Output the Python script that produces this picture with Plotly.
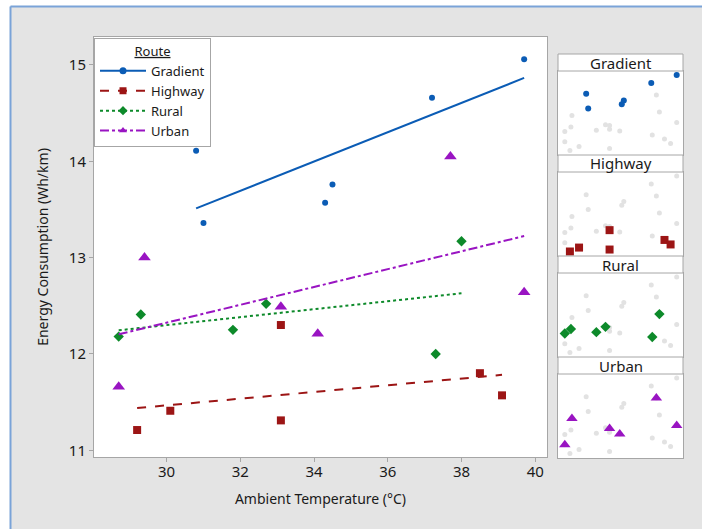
import numpy as np
import plotly.graph_objects as go

# ---------------- data ----------------
routes = ["Gradient", "Highway", "Rural", "Urban"]
gradient_x = [30.8, 31.0, 34.3, 34.5, 37.2, 39.7]
gradient_y = [14.11, 13.36, 13.57, 13.76, 14.66, 15.06]
highway_x = [29.2, 30.1, 33.1, 33.1, 38.5, 39.1]
highway_y = [11.21, 11.41, 12.30, 11.31, 11.80, 11.57]
rural_x = [28.7, 29.3, 31.8, 32.7, 37.3, 38.0]
rural_y = [12.18, 12.41, 12.25, 12.52, 12.00, 13.17]
urban_x = [28.7, 29.4, 33.1, 34.1, 37.7, 39.7]
urban_y = [11.66, 13.00, 12.49, 12.21, 14.05, 12.64]
x_ticks = [30, 32, 34, 36, 38, 40]
y_ticks = [11, 12, 13, 14, 15]

xs = [gradient_x, highway_x, rural_x, urban_x]
ys = [gradient_y, highway_y, rural_y, urban_y]

# ---------------- styles ----------------
colors = ["#0b5cb5", "#9c1515", "#0d8a2a", "#9914c2"]
symbols = ["circle", "square", "diamond", "triangle-up"]
msizes = [6, 8, 8, 11]
small_sizes = [6, 8, 8, 10]
dashes = ["solid", "dash", "dot", "dashdot"]

W, H = 702, 529
FONT = "Noto Sans"


def px(v):
    return v / W


def py(v):
    return 1 - v / H


fig = go.Figure()

# main panel
for i, r in enumerate(routes):
    x = np.array(xs[i])
    y = np.array(ys[i])
    b, a = np.polyfit(x, y, 1)
    xl = np.array([x.min(), x.max()])
    fig.add_trace(go.Scatter(x=xl, y=a + b * xl, mode="lines",
                             line=dict(color=colors[i], width=2, dash=dashes[i]),
                             showlegend=False, xaxis="x", yaxis="y", hoverinfo="skip"))
    fig.add_trace(go.Scatter(x=x, y=y, mode="markers",
                             marker=dict(color=colors[i], symbol=symbols[i], size=msizes[i]),
                             showlegend=False, xaxis="x", yaxis="y"))
    # legend entry
    fig.add_trace(go.Scatter(x=[None], y=[None], mode="lines+markers", name=r,
                             line=dict(color=colors[i], width=2, dash=dashes[i]),
                             marker=dict(color=colors[i], symbol=symbols[i], size=7),
                             xaxis="x", yaxis="y"))

# small multiples
all_x = sum(xs, [])
all_y = sum(ys, [])
for i, r in enumerate(routes):
    k = i + 2
    fig.add_trace(go.Scatter(x=all_x, y=all_y, mode="markers",
                             marker=dict(color="#e2e2e2", size=5),
                             showlegend=False, xaxis=f"x{k}", yaxis=f"y{k}", hoverinfo="skip"))
    fig.add_trace(go.Scatter(x=xs[i], y=ys[i], mode="markers",
                             marker=dict(color=colors[i], symbol=symbols[i], size=small_sizes[i]),
                             showlegend=False, xaxis=f"x{k}", yaxis=f"y{k}"))

axis_common = dict(showgrid=False, zeroline=False, showline=True, mirror=True,
                   linecolor="#a6a6a6", linewidth=1, automargin=False)

layout = dict(
    width=W, height=H,
    margin=dict(l=0, r=0, t=0, b=0, autoexpand=False),
    paper_bgcolor="#e4e4e4",
    plot_bgcolor="white",
    font=dict(family=FONT, size=14, color="#1a1a1a"),
    xaxis=dict(domain=[px(94), px(547)], range=[28.03, 40.32], anchor="y",
               tickvals=x_ticks, ticks="outside", ticklen=4, tickcolor="#a6a6a6",
               tickfont=dict(size=15), ticklabelstandoff=-3,
               title=dict(text="Ambient Temperature (°C)", font=dict(size=14), standoff=14),
               **axis_common),
    yaxis=dict(domain=[py(457), py(37)], range=[10.93, 15.29], anchor="x",
               tickvals=y_ticks, ticks="outside", ticklen=4, tickcolor="#a6a6a6",
               tickfont=dict(size=15),
               title=dict(text="Energy Consumption (Wh/km)", font=dict(size=14), standoff=16),
               **axis_common),
    legend=dict(x=px(94), y=py(38), xanchor="left", yanchor="top",
                bgcolor="white", bordercolor="#a6a6a6", borderwidth=1,
                font=dict(size=13), itemwidth=46, tracegroupgap=0,
                entrywidth=72, entrywidthmode="pixels",
                title=dict(text="<u>Route</u>", side="top center", font=dict(size=13))),
    shapes=[], annotations=[],
)

panel_tops = [54, 155, 256, 357]
hdr_h, pan_h = 17, 84
for i, r in enumerate(routes):
    k = i + 2
    top = panel_tops[i]
    layout[f"xaxis{k}"] = dict(domain=[px(558), px(683)], range=[28.03, 40.32],
                               anchor=f"y{k}", showticklabels=False, ticks="", **axis_common)
    layout[f"yaxis{k}"] = dict(domain=[py(top + hdr_h + pan_h), py(top + hdr_h)],
                               range=[10.98, 15.27], anchor=f"x{k}",
                               showticklabels=False, ticks="", **axis_common)
    layout["shapes"].append(dict(type="rect", xref="paper", yref="paper",
                                 x0=px(558), x1=px(683), y0=py(top + hdr_h), y1=py(top),
                                 fillcolor="white", line=dict(color="#a6a6a6", width=1)))
    layout["annotations"].append(dict(text=r, xref="paper", yref="paper",
                                      x=px(620.5), y=py(top + hdr_h / 2), showarrow=False,
                                      xanchor="center", yanchor="middle",
                                      font=dict(size=15, color="#1a1a1a")))

# outer white margin and blue frame
layout["shapes"] += [
    dict(type="rect", xref="paper", yref="paper", x0=0, x1=px(10), y0=0, y1=1,
         fillcolor="white", line=dict(width=0), layer="below"),
    dict(type="rect", xref="paper", yref="paper", x0=0, x1=1, y0=py(6), y1=1,
         fillcolor="white", line=dict(width=0), layer="below"),
    dict(type="line", xref="paper", yref="paper", x0=px(10.5), x1=px(10.5), y0=0, y1=py(6.5),
         line=dict(color="#7aa3d8", width=2)),
    dict(type="line", xref="paper", yref="paper", x0=px(10.5), x1=1, y0=py(6.5), y1=py(6.5),
         line=dict(color="#7aa3d8", width=2)),
]

fig.update_layout(**layout)
fig.write_html("out.html", config={"displayModeBar": False},
               post_script="document.body.style.margin='0';")
